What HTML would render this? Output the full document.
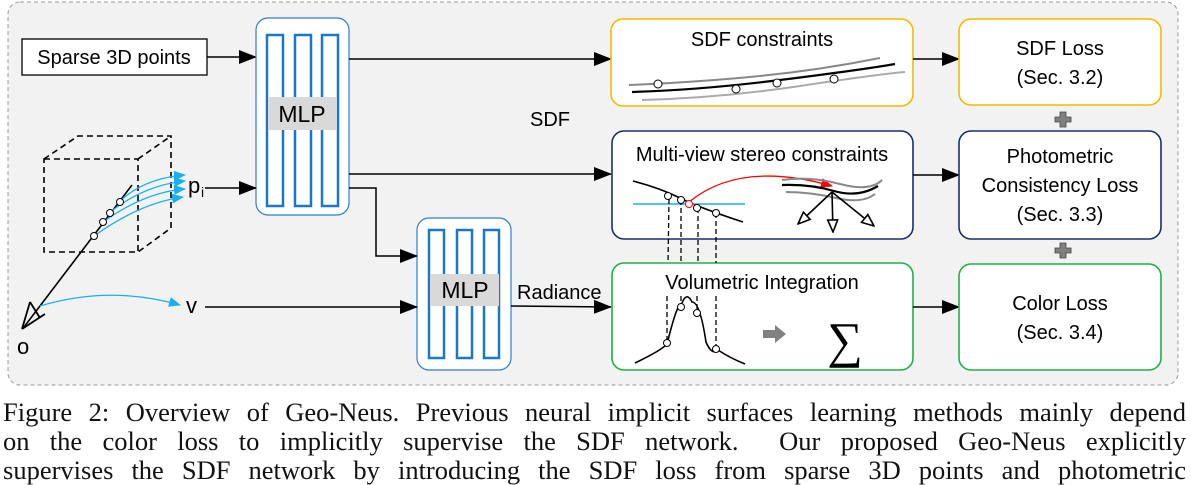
<!DOCTYPE html>
<html><head><meta charset="utf-8"><style>
body{margin:0;background:#fff;width:1191px;height:477px;overflow:hidden}
svg{position:absolute;left:0;top:0}
.cap{position:absolute;left:3px;width:1183px;font-family:"Liberation Serif",serif;font-size:26.5px;line-height:29px;text-align:justify;text-align-last:justify;white-space:nowrap;color:#111}
</style></head><body>
<svg width="1191" height="477" viewBox="0 0 1191 477" font-family="Liberation Sans, sans-serif">
<defs>
<marker id="a2" markerWidth="18" markerHeight="14" refX="17" refY="7" orient="auto" markerUnits="userSpaceOnUse"><path d="M0,0L18,7L0,14z" fill="#000"/></marker>
<marker id="b" markerWidth="12" markerHeight="10" refX="11" refY="5" orient="auto" markerUnits="userSpaceOnUse"><path d="M0,0L12,5L0,10z" fill="#1ab0ee"/></marker>
<marker id="r" markerWidth="12" markerHeight="10" refX="11" refY="5" orient="auto" markerUnits="userSpaceOnUse"><path d="M0,0L12,5L0,10z" fill="#f00"/></marker>
<marker id="h" markerWidth="14" markerHeight="12" refX="13" refY="6" orient="auto" markerUnits="userSpaceOnUse"><path d="M1,1L13,6L1,11z" fill="#fff" stroke="#000" stroke-width="1.6"/></marker>
</defs>
<rect x="8" y="2" width="1170" height="383" rx="12" fill="#f2f2f2" stroke="#999" stroke-dasharray="4,3"/>
<rect x="22" y="39" width="185" height="36" fill="#fff" stroke="#000" stroke-width="1.3"/>
<text x="114" y="64" font-size="20" text-anchor="middle">Sparse 3D points</text>
<line x1="207" y1="57" x2="256" y2="57" stroke="#000" stroke-width="1.5" marker-end="url(#a2)"/>
<rect x="256" y="18" width="93" height="197" rx="12" fill="#fff" stroke="#2b7fd0" stroke-width="1.2"/>
<g fill="none" stroke="#1a78c8" stroke-width="2.5"><rect x="267" y="35" width="16" height="171"/><rect x="295" y="35" width="16" height="171"/><rect x="322" y="35" width="16" height="171"/></g>
<rect x="268" y="97" width="68" height="33" fill="#d9d9d9"/>
<text x="302" y="122" font-size="23" text-anchor="middle">MLP</text>
<rect x="417" y="218" width="94" height="152" rx="12" fill="#fff" stroke="#2b7fd0" stroke-width="1.2"/>
<g fill="none" stroke="#1a78c8" stroke-width="2.5"><rect x="429" y="230" width="15" height="128"/><rect x="457" y="230" width="15" height="128"/><rect x="484" y="230" width="15" height="128"/></g>
<rect x="430" y="274" width="69" height="32" fill="#d9d9d9"/>
<text x="465" y="298" font-size="23" text-anchor="middle">MLP</text>
<line x1="349" y1="59" x2="611" y2="59" stroke="#000" stroke-width="1.5" marker-end="url(#a2)"/>
<line x1="349" y1="174" x2="611" y2="174" stroke="#000" stroke-width="1.5" marker-end="url(#a2)"/>
<polyline points="349,188 376,188 376,256 417,256" fill="none" stroke="#000" stroke-width="1.5" marker-end="url(#a2)"/>
<line x1="205" y1="188" x2="256" y2="188" stroke="#000" stroke-width="1.5" marker-end="url(#a2)"/>
<line x1="205" y1="307" x2="417" y2="307" stroke="#000" stroke-width="1.5" marker-end="url(#a2)"/>
<line x1="511" y1="306" x2="611" y2="307" stroke="#000" stroke-width="1.5" marker-end="url(#a2)"/>
<text x="530" y="126" font-size="20">SDF</text>
<text x="517" y="299" font-size="20">Radiance</text>
<text x="188" y="193" font-size="22">p</text><text x="201" y="197" font-size="14">i</text>
<text x="186" y="313" font-size="22">v</text>
<text x="17" y="354" font-size="22">o</text>
<g fill="none" stroke="#000" stroke-width="1.6" stroke-dasharray="6,4">
<rect x="44" y="159" width="94" height="93"/>
<polyline points="44,159 78,136 171,136 171,228 138,252"/>
<line x1="138" y1="159" x2="171" y2="136"/>
</g>
<line x1="132" y1="185" x2="24" y2="327" stroke="#000" stroke-width="1.6"/>
<path d="M22,329L45,314M30,302L40,318M22,329L30,302" fill="none" stroke="#000" stroke-width="1.8"/>
<g fill="none" stroke="#1ab0ee" stroke-width="1.3">
<path d="M120,201Q145,178 185,175" marker-end="url(#b)"/>
<path d="M110,212Q145,185 185,181" marker-end="url(#b)"/>
<path d="M103,222Q145,192 185,189" marker-end="url(#b)"/>
<path d="M94,236Q140,203 183,197" marker-end="url(#b)"/>
<path d="M40,306Q110,285 180,305" marker-end="url(#b)"/>
</g>
<g fill="#fff" stroke="#000" stroke-width="1"><circle cx="94" cy="236" r="3.5"/><circle cx="103" cy="222" r="3.5"/><circle cx="110" cy="213" r="3.5"/><circle cx="120" cy="202" r="3.5"/></g>
<rect x="611" y="19" width="302" height="87" rx="12" fill="#fff" stroke="#f5b800" stroke-width="1.6"/>
<text x="762" y="46" font-size="20" text-anchor="middle">SDF constraints</text>
<path d="M629,85Q700,82 760,76T880,58" fill="none" stroke="#888" stroke-width="2"/>
<path d="M632,92Q700,90 780,80T895,64" fill="none" stroke="#000" stroke-width="2.2"/>
<path d="M642,100Q720,98 800,86T905,72" fill="none" stroke="#aaa" stroke-width="2"/>
<g fill="#fff" stroke="#000" stroke-width="1"><circle cx="658" cy="84" r="4"/><circle cx="736" cy="89" r="4"/><circle cx="777" cy="83" r="4"/><circle cx="834" cy="79" r="4"/></g>
<rect x="612" y="131" width="301" height="108" rx="12" fill="#fff" stroke="#1a2f6a" stroke-width="1.6"/>
<text x="762" y="161" font-size="20" text-anchor="middle">Multi-view stereo constraints</text>
<path d="M633,181Q660,188 680,198T743,222" fill="none" stroke="#000" stroke-width="1.6"/>
<line x1="633" y1="204" x2="745" y2="204" stroke="#1ab0ee" stroke-width="1.6"/>
<path d="M689,202Q740,160 832,186" fill="none" stroke="#f00" stroke-width="1.3" marker-end="url(#r)"/>
<path d="M782,180Q810,176 840,184T882,180" fill="none" stroke="#888" stroke-width="2"/>
<path d="M782,185Q810,184 834,191T878,186" fill="none" stroke="#000" stroke-width="2.2"/>
<path d="M786,192Q810,192 836,198T875,194" fill="none" stroke="#888" stroke-width="2"/>
<g stroke="#000" stroke-width="1.6"><line x1="832" y1="192" x2="798" y2="224" marker-end="url(#h)"/><line x1="832" y1="192" x2="833" y2="232" marker-end="url(#h)"/><line x1="832" y1="192" x2="874" y2="226" marker-end="url(#h)"/></g>
<rect x="612" y="263" width="301" height="107" rx="12" fill="#fff" stroke="#1fb04a" stroke-width="1.6"/>
<text x="762" y="289" font-size="20" text-anchor="middle">Volumetric Integration</text>
<path d="M635,363Q662,350 667,344Q678,300 681,306Q686,290 692,302Q700,302 706,342Q712,356 718,350Q730,358 745,364" fill="none" stroke="#000" stroke-width="1.6"/>
<g stroke="#000" stroke-width="1.3" stroke-dasharray="5,3">
<line x1="669" y1="199" x2="668" y2="263"/><line x1="681" y1="200" x2="681" y2="263"/><line x1="698" y1="208" x2="698" y2="263"/><line x1="716" y1="213" x2="716" y2="263"/>
<line x1="667" y1="296" x2="667" y2="343"/><line x1="681" y1="296" x2="681" y2="305"/><line x1="697" y1="296" x2="697" y2="312"/><line x1="716" y1="296" x2="716" y2="348"/></g>
<g fill="#fff" stroke="#000" stroke-width="1"><circle cx="668" cy="196" r="3.5"/><circle cx="681" cy="200" r="3.5"/><circle cx="697" cy="208" r="3.5"/><circle cx="716" cy="213" r="3.5"/><circle cx="667" cy="343" r="3.5"/><circle cx="681" cy="307" r="3.5"/><circle cx="697" cy="313" r="3.5"/><circle cx="716" cy="349" r="3.5"/></g>
<circle cx="689" cy="204" r="3.5" fill="#fff" stroke="#f00" stroke-width="1"/>
<path d="M763,330h12v-5l11,9l-11,9v-5h-12z" fill="#808080"/>
<text x="845" y="357" font-size="50" font-family="Liberation Serif, serif" text-anchor="middle">∑</text>
<g stroke="#000" stroke-width="1.5"><line x1="913" y1="59" x2="959" y2="59" marker-end="url(#a2)"/><line x1="913" y1="175" x2="959" y2="175" marker-end="url(#a2)"/><line x1="913" y1="307" x2="959" y2="307" marker-end="url(#a2)"/></g>
<rect x="959" y="19" width="202" height="86" rx="12" fill="#fff" stroke="#f5b800" stroke-width="1.6"/>
<rect x="959" y="131" width="202" height="108" rx="12" fill="#fff" stroke="#1a2f6a" stroke-width="1.6"/>
<rect x="959" y="264" width="202" height="106" rx="12" fill="#fff" stroke="#1fb04a" stroke-width="1.6"/>
<g font-size="20" text-anchor="middle">
<text x="1060" y="55">SDF Loss</text><text x="1060" y="84">(Sec. 3.2)</text>
<text x="1060" y="163">Photometric</text><text x="1060" y="192">Consistency Loss</text><text x="1060" y="221">(Sec. 3.3)</text>
<text x="1060" y="310">Color Loss</text><text x="1060" y="339">(Sec. 3.4)</text>
</g>
<g fill="#808080" stroke="#444" stroke-width="0.8"><path d="M1060,112h6v5h5v5h-5v5h-6v-5h-5v-5h5z"/><path d="M1060,243h6v5h5v5h-5v5h-6v-5h-5v-5h5z"/></g>
</svg>
<div class="cap" style="top:398px">Figure 2: Overview of Geo-Neus. Previous neural implicit surfaces learning methods mainly depend</div>
<div class="cap" style="top:427px">on the color loss to implicitly supervise the SDF network. &nbsp;Our proposed Geo-Neus explicitly</div>
<div class="cap" style="top:456px">supervises the SDF network by introducing the SDF loss from sparse 3D points and photometric</div>
</body></html>
